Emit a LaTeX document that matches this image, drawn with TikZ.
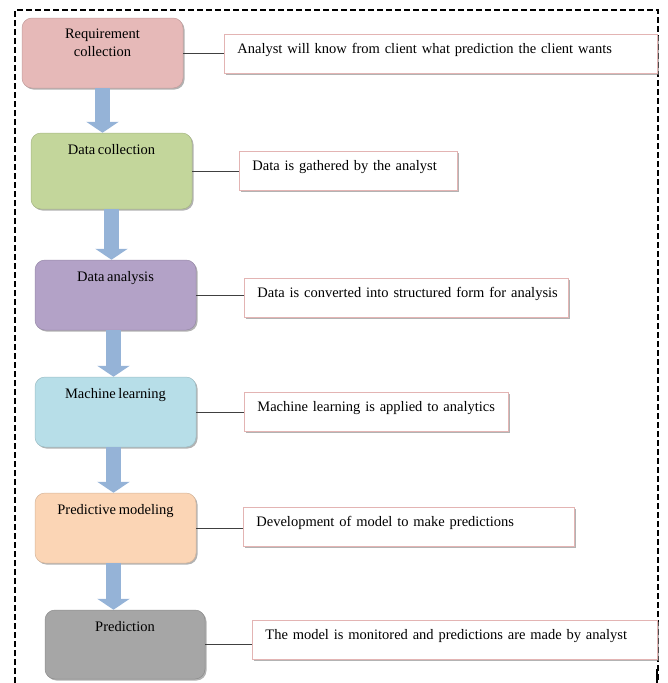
\documentclass[tikz,border=0pt]{standalone}
\usepackage{fontspec}
\setmainfont{Liberation Serif}[WordSpace=0.75]
\usetikzlibrary{arrows.meta, shadows}

\definecolor{reqpink}{HTML}{E6B9B8}
\definecolor{dcgreen}{HTML}{C3D69B}
\definecolor{dapurple}{HTML}{B3A2C7}
\definecolor{mlblue}{HTML}{B7DEE8}
\definecolor{pmpeach}{HTML}{FBD5B5}
\definecolor{predgray}{HTML}{A6A6A6}
\definecolor{flowblue}{HTML}{95B3D7}
\definecolor{notepink}{HTML}{E3B4B3}

\tikzset{
  stage/.style={rounded corners=10pt, fill=#1, draw=#1!85!black, line width=0.5pt,
    minimum width=161pt, minimum height=70pt, inner sep=0pt,
    drop shadow={shadow xshift=1.5pt, shadow yshift=-1.5pt, fill=black!60, opacity=0.5}},
  stagelabel/.style={anchor=north, yshift=-11pt, inner sep=0pt, align=center,
    font=\fontsize{14.5}{18}\selectfont},
  note/.style={draw=notepink, fill=white, line width=0.8pt, anchor=west,
    text width=#1, align=left, inner xsep=13pt, inner ysep=0pt,
    text height=19pt, text depth=20pt, font=\fontsize{14.5}{16}\selectfont,
    execute at begin node=\hbox\bgroup, execute at end node=\egroup,
    drop shadow={shadow xshift=1.5pt, shadow yshift=-1.5pt, fill=black!50, opacity=0.6}},
  link/.style={draw=black!75, line width=0.8pt},
  flow/.style={draw=flowblue, line width=15pt, -{Triangle[length=11pt, width=32pt]}}
}

\begin{document}
\begin{tikzpicture}[x=1pt, y=-1pt]
  \useasboundingbox (0,0) rectangle (667,683);

  % Dashed frame around the whole process
  \draw[line width=1.1pt, dash pattern=on 6pt off 3pt] (15,683) -- (15,10) -- (658,10) -- (658,683);
  \draw[line width=2pt] (657,669) -- (657,683);

  % Stages of the process
  \node[stage=reqpink, label={[stagelabel]north:Requirement\\collection}] (req) at (102.5,53) {};
  \node[stage=dcgreen, minimum height=76pt, label={[stagelabel]north:Data collection}] (dc) at (111.5,171) {};
  \node[stage=dapurple, label={[stagelabel]north:Data analysis}] (da) at (115.5,295) {};
  \node[stage=mlblue, label={[stagelabel]north:Machine learning}] (ml) at (115.5,412) {};
  \node[stage=pmpeach, label={[stagelabel]north:Predictive modeling}] (pm) at (115.5,528) {};
  \node[stage=predgray, minimum width=160pt, minimum height=69pt, label={[stagelabel]north:Prediction}] (pred) at (125,644.5) {};

  % Notes beside each stage
  \node[note=407pt] (reqnote) at (224,53.5) {Analyst will know from client what prediction the client wants};
  \node[note=192pt] (dcnote) at (239,171) {Data is gathered by the analyst};
  \node[note=298pt] (danote) at (244,298) {Data is converted into structured form for analysis};
  \node[note=238pt] (mlnote) at (244,411.5) {Machine learning is applied to analytics};
  \node[note=305pt] (pmnote) at (243,527) {Development of model to make predictions};
  \node[note=379pt] (prednote) at (252,640) {The model is monitored and predictions are made by analyst};

  % Lines from stages to notes
  \foreach \s in {req, dc, da, ml, pm, pred}
    \draw[link] (\s.east) -- (\s.east -| \s note.west);

  % Block arrows between stages
  \draw[flow] (req.south) -- (req.south |- dc.north);
  \draw[flow] (dc.south) -- (dc.south |- da.north);
  \draw[flow] ([xshift=-2pt]da.south) -- ([xshift=-2pt]da.south |- ml.north);
  \draw[flow] ([xshift=-2pt]ml.south) -- ([xshift=-2pt]ml.south |- pm.north);
  \draw[flow] ([xshift=-2pt]pm.south) -- ([xshift=-2pt]pm.south |- pred.north);
\end{tikzpicture}
\end{document}
